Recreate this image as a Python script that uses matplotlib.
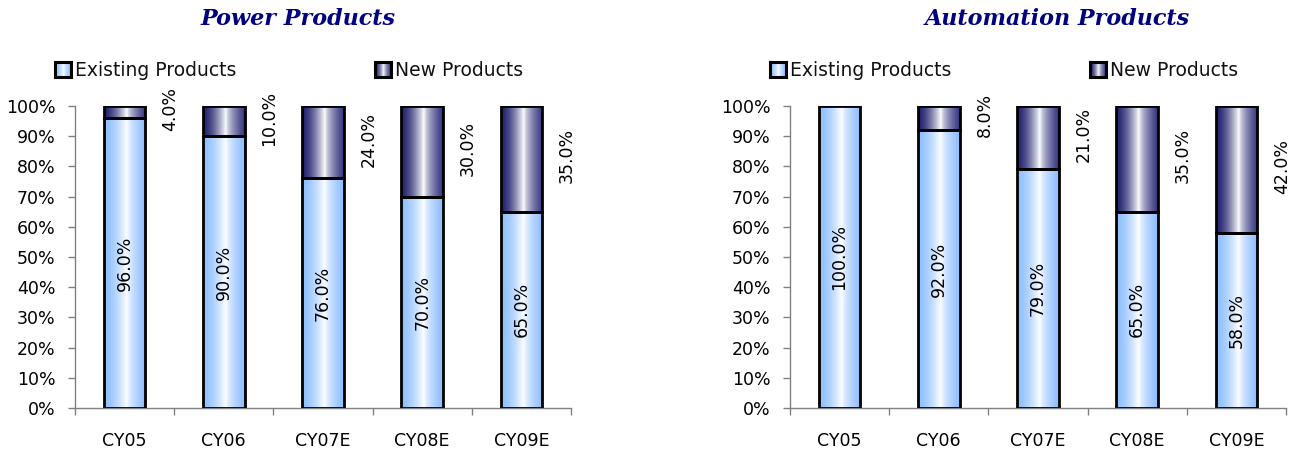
import numpy as np
import matplotlib
matplotlib.use("Agg")
import matplotlib.pyplot as plt
from matplotlib.patches import Rectangle
from matplotlib.colors import to_rgb

# ── data ─────────────────────────────────────────────
categories = ['CY05', 'CY06', 'CY07E', 'CY08E', 'CY09E']
power_existing = [96.0, 90.0, 76.0, 70.0, 65.0]
power_new = [4.0, 10.0, 24.0, 30.0, 35.0]
auto_existing = [100.0, 92.0, 79.0, 65.0, 58.0]
auto_new = [0.0, 8.0, 21.0, 35.0, 42.0]
series_names = ['Existing Products', 'New Products']

plt.rcParams['font.family'] = ['DejaVu Sans']

EXIST_GRAD = ('#8fc0ff', '#ffffff', '#8cbcff')
NEW_GRAD = ('#23236f', '#ffffff', '#33337f')
GREY = '#808080'
BAR_W = 0.42


def gradient(colors, n=128, peak=0.55, power=1.6):
    """Horizontal edge -> white -> edge gradient, shape (1, n, 3)."""
    left, mid, right = [np.array(to_rgb(c)) for c in colors]
    t = np.linspace(0, 1, n)
    img = np.zeros((1, n, 3))
    for k, v in enumerate(t):
        if v < peak:
            f = (v / peak) ** power
            img[0, k] = left * (1 - f) + mid * f
        else:
            f = ((v - peak) / (1 - peak)) ** (1 / power)
            img[0, k] = mid * (1 - f) + right * f
    return img


def grad_bar(ax, x, bottom, height, colors):
    if height <= 0:
        return
    x0, x1 = x - BAR_W / 2, x + BAR_W / 2
    ax.imshow(gradient(colors), extent=(x0, x1, bottom, bottom + height),
              aspect='auto', interpolation='bilinear', zorder=2)
    ax.add_patch(Rectangle((x0, bottom), BAR_W, height, fill=False,
                           edgecolor='black', linewidth=2, zorder=3))


def legend_box(ax, x, colors, label):
    box = ax.inset_axes([x, 1.096, 0.032, 0.05])
    box.imshow(gradient(colors), aspect='auto', interpolation='bilinear')
    box.set_xticks([])
    box.set_yticks([])
    for s in box.spines.values():
        s.set_linewidth(2.2)
        s.set_color('black')
    ax.text(x + 0.04, 1.118, label, transform=ax.transAxes, fontsize=13.5,
            va='center', ha='left', color='#111111')


def draw_chart(ax, title, title_x, existing, new):
    xs = np.arange(len(categories))
    for i in xs:
        grad_bar(ax, i, 0, existing[i], EXIST_GRAD)
        grad_bar(ax, i, existing[i], new[i], NEW_GRAD)
        ax.text(i, existing[i] / 2, f'{existing[i]:.1f}%', rotation=90,
                ha='center', va='center', fontsize=12.5, zorder=4)
        if new[i] > 0:
            ax.text(i + 0.46, existing[i] + new[i] / 2 + 1, f'{new[i]:.1f}%',
                    rotation=90, ha='center', va='center', fontsize=12.5)

    ax.set_xlim(-0.5, len(categories) - 0.5)
    ax.set_ylim(0, 100)

    ax.set_yticks(np.arange(0, 101, 10))
    ax.set_yticklabels([f'{v}%' for v in range(0, 101, 10)])
    ax.tick_params(axis='y', direction='out', length=5, width=1, color=GREY,
                   pad=9, labelsize=12.5)

    ax.set_xticks(np.arange(-0.5, len(categories), 1.0))
    ax.set_xticklabels([])
    ax.set_xticks(xs, minor=True)
    ax.set_xticklabels(categories, minor=True)
    ax.tick_params(axis='x', which='major', direction='out', length=5,
                   width=1, color=GREY)
    ax.tick_params(axis='x', which='minor', length=0, pad=17, labelsize=12.5)

    for side in ['top', 'right']:
        ax.spines[side].set_visible(False)
    for side in ['left', 'bottom']:
        ax.spines[side].set_color(GREY)
        ax.spines[side].set_linewidth(1)

    legend_box(ax, -0.04, EXIST_GRAD, series_names[0])
    legend_box(ax, 0.605, NEW_GRAD, series_names[1])

    ax.text(title_x, 1.288, title, transform=ax.transAxes, ha='center',
            va='center', fontsize=16, fontweight='bold', fontstyle='italic',
            family='DejaVu Serif', color='#000080')


fig = plt.figure(figsize=(12.99, 4.51), dpi=100)
ax1 = fig.add_axes([75 / 1299, 43 / 451, 496 / 1299, 302 / 451])
ax2 = fig.add_axes([790 / 1299, 43 / 451, 496 / 1299, 302 / 451])

draw_chart(ax1, 'Power Products', 0.45, power_existing, power_new)
draw_chart(ax2, 'Automation Products', 0.538, auto_existing, auto_new)

fig.savefig('out.png', dpi=100)
